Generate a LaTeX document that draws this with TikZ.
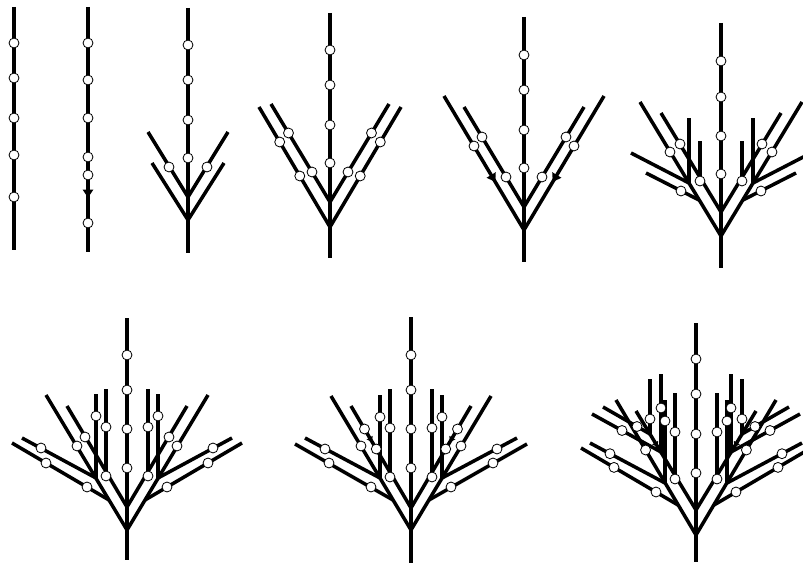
\documentclass[tikz,border=0pt]{standalone}
\usepackage{tikz}
\usetikzlibrary{arrows.meta}

\begin{document}
\begin{tikzpicture}[
    x=0.03cm, y=-0.03cm,
    shoot/.style     ={line width=3pt,black},
    bud/.style       ={circle,draw=black,fill=white,line width=0.7pt,
                       minimum size=8.5pt,inner sep=0pt},
    mover/.style     ={line width=2pt,-{Latex[length=8pt,width=10pt]}},
    smallmover/.style={line width=1.5pt,-{Latex[length=5pt,width=6.5pt]}},
  ]
  \useasboundingbox (0,0) rectangle (803,566);

  % --- stage 1: unbranched axis ---
  \draw[shoot] (14,7) -- (14,250);
  \foreach \y in {43,78,118,155,197} \node[bud] at (14,\y) {};

  % --- stage 2: a bud slides down ---
  \draw[shoot] (88,7) -- (88,252);
  \draw[mover] (88,180) -- (88,199);
  \foreach \y in {43,80,118,157,175,223} \node[bud] at (88,\y) {};

  % --- stage 3: first laterals ---
  \begin{scope}[shift={(188,0)}]
    \draw[shoot] (0,8) -- (0,253);
    \foreach \s in {1,-1}{
      \begin{scope}[xscale=\s]
        \draw[shoot] (0,197) -- (-40,132);
        \draw[shoot] (0,220) -- (-36,163);
        \node[bud] at (-19,167) {};
      \end{scope}}
    \foreach \y in {45,80,120,158} \node[bud] at (0,\y) {};
  \end{scope}

  % --- stage 4: laterals carry buds ---
  \begin{scope}[shift={(330,0)}]
    \draw[shoot] (0,13) -- (0,258);
    \foreach \s in {1,-1}{
      \begin{scope}[xscale=\s]
        \draw[shoot] (0,202) -- (-59,104);
        \draw[shoot] (0,227) -- (-71,107);
        \node[bud] at (-41.5,133) {};
        \node[bud] at (-18,172) {};
        \node[bud] at (-50.3,142) {};
        \node[bud] at (-30.2,176) {};
      \end{scope}}
    \foreach \y in {50,85,125,163} \node[bud] at (0,\y) {};
  \end{scope}

  % --- stage 5: buds slide along outer laterals ---
  \begin{scope}[shift={(524,0)}]
    \draw[shoot] (0,17) -- (0,262);
    \foreach \s in {1,-1}{
      \begin{scope}[xscale=\s]
        \draw[shoot] (0,207) -- (-60,107);
        \draw[shoot] (0,230) -- (-80,96);
        \draw[mover] (-34.4,172.4) -- (-28,183);
        \node[bud] at (-42,137) {};
        \node[bud] at (-18,177) {};
        \node[bud] at (-50,146) {};
      \end{scope}}
    \foreach \y in {55,90,130,168} \node[bud] at (0,\y) {};
  \end{scope}

  % --- stage 6: second order shoots ---
  \begin{scope}[shift={(721,0)}]
    \draw[shoot] (0,23) -- (0,268);
    \foreach \s in {1,-1}{
      \begin{scope}[xscale=\s]
        \draw[shoot] (-32,183) -- (-32,118);
        \draw[shoot] (-21,185) -- (-21,141);
        \draw[shoot] (-32,183) -- (-90,153);
        \draw[shoot] (-22,200) -- (-75,173);
        \draw[shoot] (0,212) -- (-60,113);
        \draw[shoot] (0,236) -- (-81,102);
        \node[bud] at (-41,144) {};
        \node[bud] at (-51,152) {};
        \node[bud] at (-21,181) {};
        \node[bud] at (-40,191) {};
      \end{scope}}
    \foreach \y in {61,97,136,174} \node[bud] at (0,\y) {};
  \end{scope}

  % --- stage 7 ---
  \begin{scope}[shift={(127,0)}]
    \draw[shoot] (0,318) -- (0,560);
    \foreach \s in {1,-1}{
      \begin{scope}[xscale=\s]
        \draw[shoot] (-31,478) -- (-31,394);
        \draw[shoot] (-21,480) -- (-21,389);
        \draw[shoot] (-31,478) -- (-105,438);
        \draw[shoot] (-18,500) -- (-115,443);
        \draw[shoot] (0,507) -- (-60,406);
        \draw[shoot] (0,530) -- (-81,395);
        \foreach \p in {(-31,416),(-21,427),(-21,476),(-86,448),
                        (-81,463),(-40,487),(-42,437),(-50,446)}
          \node[bud] at \p {};
      \end{scope}}
    \foreach \y in {355,390,429,468} \node[bud] at (0,\y) {};
  \end{scope}

  % --- stage 8: bud doubles on inner laterals ---
  \begin{scope}[shift={(411,0)}]
    \draw[shoot] (0,317) -- (0,563);
    \foreach \s in {1,-1}{
      \begin{scope}[xscale=\s]
        \draw[shoot] (-31,478) -- (-31,395);
        \draw[shoot] (-21,480) -- (-21,389);
        \draw[shoot] (-31,478) -- (-106,438);
        \draw[shoot] (-18,500) -- (-116,444);
        \draw[shoot] (0,508) -- (-60,406);
        \draw[shoot] (0,530) -- (-80,396);
        \draw[smallmover] (-43.2,434.6) -- (-38.4,442.7);
        \foreach \p in {(-31,417),(-21,428),(-21,477),(-86,449),(-82,463),
                        (-40,487),(-46.5,429),(-34.7,449),(-50,446)}
          \node[bud] at \p {};
      \end{scope}}
    \foreach \y in {355,390,429,468} \node[bud] at (0,\y) {};
  \end{scope}

  % --- stage 9: third order shoots ---
  \begin{scope}[shift={(696,0)}]
    \draw[shoot] (0,323) -- (0,562);
    \foreach \s in {1,-1}{
      \begin{scope}[xscale=\s]
        \draw[shoot] (-31,483) -- (-31,400);
        \draw[shoot] (-21,484) -- (-21,393);
        \draw[shoot] (-31,483) -- (-106,443);
        \draw[shoot] (-18,505) -- (-115,448);
        \draw[shoot] (-46,434) -- (-46,379);
        \draw[shoot] (-46,434) -- (-93,407);
        \draw[shoot] (-35,452) -- (-35,374);
        \draw[shoot] (-35,452) -- (-104,414);
        \draw[shoot] (0,510) -- (-60,411);
        \draw[shoot] (0,535) -- (-80,400);
        \draw[smallmover] (-42.6,439.7) -- (-37.8,447.6);
        \foreach \p in {(-31,421),(-21,432),(-21,479),(-86,453.7),(-82,467.4),
                        (-40,492),(-50.4,450),(-46,419),(-59,426.5),
                        (-35,408),(-74,430.5)}
          \node[bud] at \p {};
      \end{scope}}
    \foreach \y in {359,394,434,473} \node[bud] at (0,\y) {};
  \end{scope}
\end{tikzpicture}
\end{document}
